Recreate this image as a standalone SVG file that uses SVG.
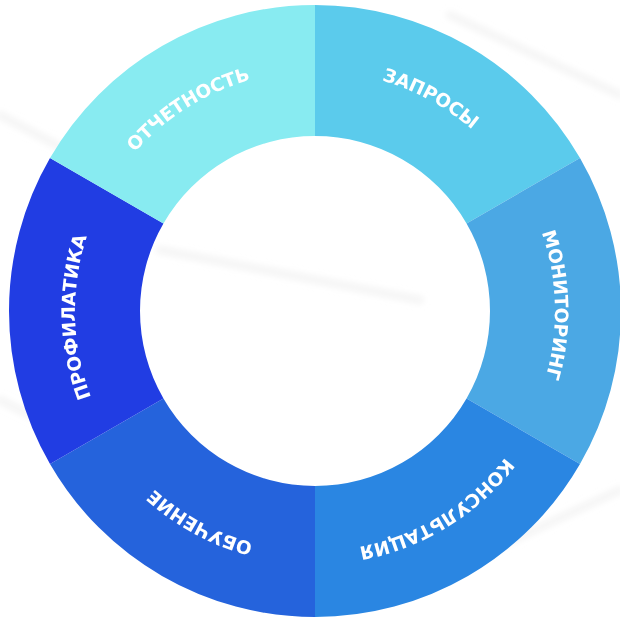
<svg xmlns="http://www.w3.org/2000/svg" width="620" height="623" viewBox="0 0 620 623">
  <defs>
    <style>
      .lbl { font-family: "DejaVu Sans", "Liberation Sans", sans-serif; font-weight: 700; font-size: 18.5px; fill: #ffffff; letter-spacing: -0.2px; }
      .streak { stroke: #ececec; stroke-width: 8; stroke-linecap: round; fill: none; opacity: 0.55; }
    </style>
    <filter id="soft" x="-10%" y="-10%" width="120%" height="120%">
      <feGaussianBlur stdDeviation="3"/>
    </filter>
    <path id="arc1" d="M 315 71 A 240 240 0 0 1 522.85 191"/>
    <path id="arc2" d="M 522.85 191 A 240 240 0 0 1 522.85 431"/>
    <path id="arc3" d="M 522.85 431 A 240 240 0 0 1 315 551"/>
    <path id="arc4" d="M 315 551 A 240 240 0 0 1 107.15 431"/>
    <path id="arc5" d="M 107.15 431 A 240 240 0 0 1 107.15 191"/>
    <path id="arc6" d="M 107.15 191 A 240 240 0 0 1 315 71"/>
  </defs>
  <rect width="620" height="623" fill="#ffffff"/>
  <g id="background" filter="url(#soft)">
    <path class="streak" d="M 0 115 L 160 200"/>
    <path class="streak" d="M 450 15 L 620 95"/>
    <path class="streak" d="M 160 250 L 420 300"/>
    <path class="streak" d="M 470 560 L 620 490"/>
    <path class="streak" d="M 0 400 L 40 420"/>
  </g>
  <g id="seg-zaprosy">
    <path d="M 315 5 A 306 306 0 0 1 580 158 L 466.55 223.5 A 175 175 0 0 0 315 136 Z" fill="#5BCBEC"/>
    <text class="lbl"><textPath href="#arc1" startOffset="47.5%" text-anchor="middle">ЗАПРОСЫ</textPath></text>
  </g>
  <g id="seg-monitoring">
    <path d="M 580 158 A 306 306 0 0 1 580 464 L 466.55 398.5 A 175 175 0 0 0 466.55 223.5 Z" fill="#4BA8E4"/>
    <text class="lbl"><textPath href="#arc2" startOffset="47.5%" text-anchor="middle">МОНИТОРИНГ</textPath></text>
  </g>
  <g id="seg-konsultaciya">
    <path d="M 580 464 A 306 306 0 0 1 315 617 L 315 486 A 175 175 0 0 0 466.55 398.5 Z" fill="#2A86E2"/>
    <text class="lbl"><textPath href="#arc3" startOffset="47.5%" text-anchor="middle">КОНСУЛЬТАЦИЯ</textPath></text>
  </g>
  <g id="seg-obuchenie">
    <path d="M 315 617 A 306 306 0 0 1 50 464 L 163.45 398.5 A 175 175 0 0 0 315 486 Z" fill="#2563DC"/>
    <text class="lbl"><textPath href="#arc4" startOffset="47.5%" text-anchor="middle">ОБУЧЕНИЕ</textPath></text>
  </g>
  <g id="seg-profilatika">
    <path d="M 50 464 A 306 306 0 0 1 50 158 L 163.45 223.5 A 175 175 0 0 0 163.45 398.5 Z" fill="#213DE3"/>
    <text class="lbl"><textPath href="#arc5" startOffset="47.5%" text-anchor="middle">ПРОФИЛАТИКА</textPath></text>
  </g>
  <g id="seg-otchetnost">
    <path d="M 50 158 A 306 306 0 0 1 315 5 L 315 136 A 175 175 0 0 0 163.45 223.5 Z" fill="#88EBF1"/>
    <text class="lbl"><textPath href="#arc6" startOffset="46.5%" text-anchor="middle">ОТЧЕТНОСТЬ</textPath></text>
  </g>
  <g id="connectors"/>
</svg>
